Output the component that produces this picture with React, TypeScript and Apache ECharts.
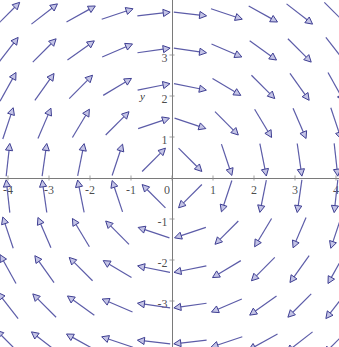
import React, { useEffect, useRef } from "react";
import * as echarts from "echarts";

// Sample points of the vector field (10 x 10 grid over [-4, 4])
const gridX = [-4, -3.111, -2.222, -1.333, -0.444, 0.444, 1.333, 2.222, 3.111, 4];
const gridY = [-4, -3.111, -2.222, -1.333, -0.444, 0.444, 1.333, 2.222, 3.111, 4];
// Tick labels shown on each axis
const xTickLabels = [-4, -3, -2, -1, 0, 1, 2, 3, 4];
const yTickLabels = [-3, -2, -1, 1, 2, 3];

// Vector field F(x, y) = (y, -x)
const field = (x: number, y: number): [number, number] => [y, -x];

export default function App() {
  const ref = useRef<HTMLDivElement>(null);
  useEffect(() => {
    if (!ref.current) return;
    const chart = echarts.init(ref.current, undefined, { renderer: "svg" });
    const data: number[][] = [];
    gridX.forEach((gx) =>
      gridY.forEach((gy) => {
        const [u, v] = field(gx, gy);
        data.push([gx, gy, u, v]);
      })
    );
    const labelFont = {
      fontFamily: "Liberation Serif, DejaVu Serif, serif",
      fontSize: 12,
      color: "#1a1a1a",
      textBorderWidth: 0,
    };
    const xLabelData = xTickLabels.map((t) => ({
      value: [t, 0],
      label: t === 0 ? { offset: [-5, 0] } : undefined,
    }));
    const yLabelData = yTickLabels.map((t) => ({ value: [0, t] }));
    chart.setOption({
      animation: false,
      backgroundColor: "#fff",
      grid: {
        left: -33,
        top: -27,
        width: 410,
        height: 410,
        containLabel: false,
        outerBoundsMode: "none",
      },
      xAxis: {
        type: "value",
        min: -5,
        max: 5,
        interval: 1,
        splitLine: { show: false },
        axisLine: { onZero: true, lineStyle: { color: "#7a7a7a", width: 1 } },
        axisTick: { show: false },
        axisLabel: { show: false },
      },
      yAxis: {
        type: "value",
        min: -5,
        max: 5,
        interval: 1,
        splitLine: { show: false },
        axisLine: { onZero: true, lineStyle: { color: "#7a7a7a", width: 1 } },
        axisTick: { show: false },
        axisLabel: { show: false },
      },
      graphic: [
        {
          type: "text",
          left: 140,
          top: 90,
          style: {
            text: "y",
            fontFamily: "Liberation Serif, DejaVu Serif, serif",
            fontStyle: "italic",
            fontSize: 11,
            fill: "#333",
          },
        },
      ],
      series: [
        {
          type: "scatter",
          data: xLabelData,
          symbol: "rect",
          symbolSize: [1, 5],
          itemStyle: { color: "#8a8a8a" },
          silent: true,
          z: 1,
          label: {
            show: true,
            position: "bottom",
            distance: 3,
            ...labelFont,
            formatter: (p: any) => String(p.value[0]),
          },
        },
        {
          type: "scatter",
          data: yLabelData,
          symbol: "rect",
          symbolSize: [5, 1],
          itemStyle: { color: "#8a8a8a" },
          silent: true,
          z: 1,
          label: {
            show: true,
            position: "left",
            distance: 2,
            offset: [0, 3],
            ...labelFont,
            formatter: (p: any) => String(p.value[1]),
          },
        },
        {
          type: "custom",
          data,
          z: 2,
          renderItem: (params: any, api: any) => {
            const x = api.value(0);
            const y = api.value(1);
            const u = api.value(2);
            const v = api.value(3);
            const c = api.coord([x, y]);
            const mag = Math.hypot(u, v) || 1;
            const dx = u / mag;
            const dy = -v / mag;
            const half = 16.5;
            const tail = [c[0] - dx * half, c[1] - dy * half];
            const tip = [c[0] + dx * half, c[1] + dy * half];
            const hl = 7;
            const hw = 3.6;
            const base = [tip[0] - dx * hl, tip[1] - dy * hl];
            const px = -dy;
            const py = dx;
            return {
              type: "group",
              children: [
                {
                  type: "line",
                  shape: { x1: tail[0], y1: tail[1], x2: base[0], y2: base[1] },
                  style: { stroke: "#5c5ca8", lineWidth: 1.2 },
                },
                {
                  type: "polygon",
                  shape: {
                    points: [
                      tip,
                      [base[0] + px * hw, base[1] + py * hw],
                      [base[0] - px * hw, base[1] - py * hw],
                    ],
                  },
                  style: { fill: "#c4c4e6", stroke: "#3e3e92", lineWidth: 1 },
                },
              ],
            };
          },
        },
      ],
    });
    return () => chart.dispose();
  }, []);
  return (
    <div
      ref={ref}
      style={{ position: "absolute", left: 0, top: 0, width: 339, height: 347 }}
    />
  );
}
